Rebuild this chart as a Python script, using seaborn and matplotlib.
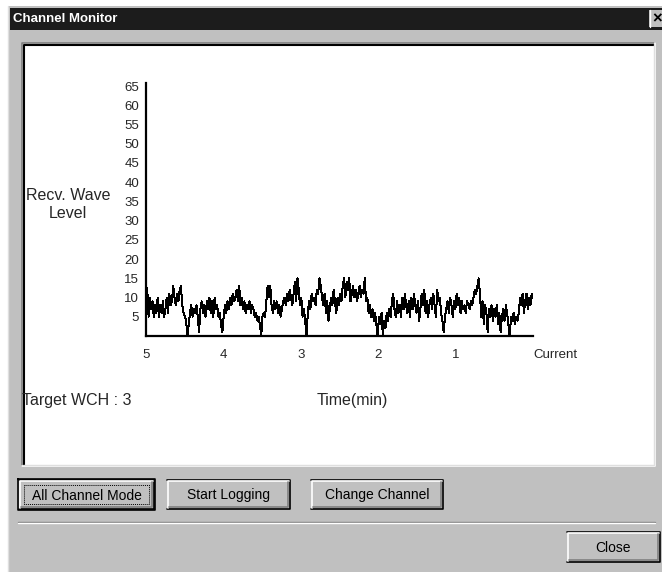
import numpy as np
import pandas as pd
import seaborn as sns
import matplotlib.pyplot as plt
from matplotlib.patches import Rectangle
from matplotlib.lines import Line2D

# received wave level, one sample per second, oldest (5 min ago) first
wave_level = [
    13, 12, 5, 10, 7, 9, 5, 8, 6, 10,
    5, 8, 6, 9, 5, 7, 10, 6, 11, 8,
    9, 13, 10, 8, 11, 9, 12, 13, 8, 6,
    5, 4, 0, 3, 6, 8, 5, 7, 6, 8,
    5, 1, 7, 9, 6, 8, 5, 9, 7, 10,
    6, 9, 5, 10, 7, 8, 5, 6, 3, 1,
    5, 8, 6, 9, 7, 10, 8, 11, 9, 10,
    12, 9, 13, 8, 10, 7, 9, 6, 8, 7,
    9, 6, 8, 7, 5, 6, 4, 5, 3, 0,
    5, 6, 5, 9, 13, 10, 13, 8, 6, 9,
    7, 9, 6, 8, 5, 7, 9, 10, 8, 11,
    9, 12, 10, 8, 11, 14, 9, 15, 12, 8,
    10, 5, 7, 4, 0, 6, 9, 7, 11, 9,
    10, 8, 12, 11, 15, 13, 10, 8, 11, 6,
    9, 4, 7, 10, 8, 12, 9, 6, 10, 8,
    11, 9, 13, 15, 10, 14, 12, 15, 9, 11,
    13, 10, 12, 9, 11, 13, 10, 12, 11, 15,
    9, 10, 6, 8, 5, 7, 4, 6, 3, 0,
    5, 3, 6, 0, 4, 2, 6, 4, 7, 5,
    9, 11, 7, 5, 9, 6, 8, 5, 10, 7,
    11, 8, 6, 9, 5, 10, 7, 11, 8, 6,
    9, 4, 7, 11, 8, 12, 6, 9, 5, 8,
    10, 7, 11, 8, 5, 12, 9, 10, 6, 4,
    1, 5, 7, 9, 6, 10, 8, 5, 9, 7,
    11, 8, 10, 6, 9, 7, 8, 6, 9, 8,
    7, 9, 8, 10, 12, 11, 13, 15, 11, 5,
    9, 3, 8, 6, 1, 7, 5, 8, 4, 7,
    5, 8, 3, 6, 1, 5, 7, 4, 8, 6,
    3, 0, 5, 4, 6, 3, 5, 4, 6, 10,
    8, 11, 6, 9, 11, 7, 10, 8, 11, 10,
]
y_ticks = [5, 10, 15, 20, 25, 30, 35, 40, 45, 50, 55, 60, 65]
x_ticks = [5, 4, 3, 2, 1, 0]
x_tick_labels = ["5", "4", "3", "2", "1", "Current"]
button_labels = ["All Channel Mode", "Start Logging", "Change Channel"]

df = pd.DataFrame({
    "minutes": np.linspace(5, 0, len(wave_level)),
    "level": wave_level,
})

sns.set_style("white")
plt.rcParams["font.family"] = ["Liberation Sans", "DejaVu Sans"]

W, H = 662, 572
fig = plt.figure(figsize=(W / 100, H / 100), dpi=100)
fig.patch.set_facecolor("white")

GRAY = "#c0c0c0"
DARK = "#808080"


# helpers working in screen pixels (origin top-left)
def px_rect(x0, y0, x1, y1, z=-5, **kw):
    fig.add_artist(Rectangle((x0 / W, 1 - y1 / H), (x1 - x0) / W, (y1 - y0) / H,
                             transform=fig.transFigure, zorder=z, **kw))


def px_line(xs, ys, z=-4, **kw):
    fig.add_artist(Line2D([x / W for x in xs], [1 - y / H for y in ys],
                          transform=fig.transFigure, zorder=z, **kw))


def px_text(x, y, s, **kw):
    fig.text(x / W, 1 - y / H, s, **kw)


def button(x0, y0, x1, y1, label, default=False):
    px_rect(x0, y0, x1, y1, facecolor=GRAY, edgecolor="none")
    px_line([x0, x1, x1, x0], [y1, y1, y0, y0], color="black", lw=1.2)
    px_line([x0 + 1, x0 + 1, x1 - 1], [y1 - 1, y0 + 1, y0 + 1], color="white", lw=1.2)
    px_line([x0 + 2, x1 - 2, x1 - 2], [y1 - 2, y1 - 2, y0 + 2], color=DARK, lw=1.2)
    if default:
        px_line([x0 - 1, x1 + 1, x1 + 1, x0 - 1, x0 - 1], [y0 - 1, y0 - 1, y1 + 1, y1 + 1, y0 - 1],
                color="black", lw=1.2)
        px_line([x0 + 5, x1 - 5, x1 - 5, x0 + 5, x0 + 5], [y0 + 5, y0 + 5, y1 - 5, y1 - 5, y0 + 5],
                color="black", lw=0.7, ls=(0, (1, 1)))
    px_text((x0 + x1) / 2, (y0 + y1) / 2 + 1, label, ha="center", va="center",
            fontsize=10, color="black")


# dialog frame and title bar
px_rect(8, 6, W, H, facecolor=GRAY, edgecolor="none", z=-9)
px_line([8, 8], [6, H], color="#dfdfdf", lw=1)
px_rect(10, 8, W, 30, facecolor="#1c1c1c", edgecolor="none", z=-8)
px_text(13, 19, "Channel Monitor", ha="left", va="center", fontsize=9.5,
        fontweight="bold", color="white")
px_rect(649, 10, W, 27, facecolor=GRAY, edgecolor="none", z=-7)
px_line([650, 650], [10, 27], color="white", lw=1, z=-6)
px_text(657, 19, "×", ha="center", va="center", fontsize=12, fontweight="bold", color="black")

# sunken white panel holding the chart
px_rect(22, 43, 655, 466, facecolor="white", edgecolor="none", z=-7)
px_line([22, 22, 655], [466, 43, 43], color=DARK, lw=1.2, z=-6)
px_line([23.5, 23.5, 654], [465, 44.5, 44.5], color="black", lw=1.5, z=-6)
px_line([22, 655, 655], [466, 466, 43], color="white", lw=1.2, z=-6)
px_line([23, 654, 654], [465, 465, 44], color="#dfdfdf", lw=1, z=-6)

# chart axes
ax = fig.add_axes([146 / W, 1 - 336 / H, (533 - 146) / W, (336 - 83) / H])
ax.set_facecolor("none")
sns.lineplot(data=df, x="minutes", y="level", color="black", linewidth=0.72,
             antialiased=False, ax=ax)
ax.set_xlim(5, 0)
ax.set_ylim(0, 65.8)
ax.set_xticks(x_ticks)
ax.set_xticklabels(x_tick_labels, fontsize=9.5)
ax.get_xticklabels()[-1].set_horizontalalignment("left")
ax.set_yticks(y_ticks)
ax.set_yticklabels([str(v) for v in y_ticks], fontsize=9.5)
ax.tick_params(axis="x", length=0, pad=9)
ax.tick_params(axis="y", length=0, pad=5)
ax.set_xlabel("")
ax.set_ylabel("")
sns.despine(ax=ax)
for side in ["left", "bottom"]:
    ax.spines[side].set_linewidth(1.6)
    ax.spines[side].set_color("black")

px_text(68, 205, "Recv. Wave\nLevel", ha="center", va="center", multialignment="center",
        fontsize=11.5, linespacing=1.25)
px_text(22, 401, "Target WCH : 3", ha="left", va="center", fontsize=11.5)
px_text(352, 401, "Time(min)", ha="center", va="center", fontsize=11.5)

# buttons along the bottom
button(19, 480, 154, 509, button_labels[0], default=True)
button(167, 480, 290, 509, button_labels[1])
button(311, 480, 443, 509, button_labels[2])

px_line([18, 655], [522, 522], color=DARK, lw=1, z=-6)
px_line([18, 655], [523, 523], color="white", lw=1, z=-6)
button(567, 532, 660, 562, "Close")

fig.savefig("out.png", dpi=100)
